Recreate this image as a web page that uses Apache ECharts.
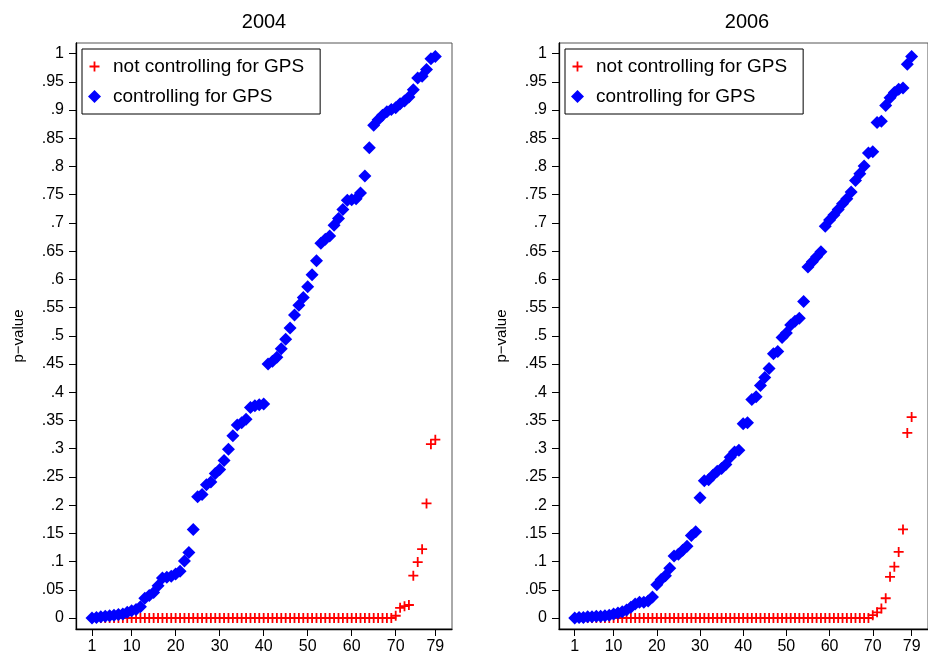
<!DOCTYPE html>
<html>
<head>
<meta charset="utf-8">
<script src="https://cdn.jsdelivr.net/npm/echarts@6/dist/echarts.min.js"></script>
<style>html,body{margin:0;padding:0;background:#fff;}#c{width:928px;height:658px;}</style>
</head>
<body>
<div id="c"></div>
<script>
// rank index (categories)
const ranks = [1,2,3,4,5,6,7,8,9,10,11,12,13,14,15,16,17,18,19,20,21,22,23,24,25,26,27,28,29,30,31,32,33,34,35,36,37,38,39,40,41,42,43,44,45,46,47,48,49,50,51,52,53,54,55,56,57,58,59,60,61,62,63,64,65,66,67,68,69,70,71,72,73,74,75,76,77,78,79];

const notCtrl2004 = [0,0,0,0,0,0,0,0,0,0,0,0,0,0,0,0,0,0,0,0,0,0,0,0,0,0,0,0,0,0,0,0,0,0,0,0,0,0,0,0,0,0,0,0,0,0,0,0,0,0,0,0,0,0,0,0,0,0,0,0,0,0,0,0,0,0,0,0,0,
  0.004,0.018,0.021,0.023,0.075,0.099,0.122,0.203,0.308,0.316];
const ctrl2004 = [0.000,0.001,0.002,0.003,0.004,0.005,0.006,0.007,0.010,0.013,
  0.015,0.020,0.035,0.040,0.045,0.057,0.071,0.072,0.074,0.078,
  0.083,0.101,0.116,0.157,0.215,0.219,0.236,0.241,0.256,0.263,
  0.279,0.299,0.323,0.342,0.346,0.352,0.373,0.376,0.378,0.379,
  0.450,0.455,0.462,0.477,0.494,0.514,0.537,0.554,0.568,0.587,
  0.608,0.633,0.664,0.671,0.677,0.696,0.708,0.724,0.740,0.741,
  0.743,0.753,0.783,0.833,0.873,0.883,0.891,0.897,0.901,0.904,
  0.911,0.916,0.923,0.936,0.957,0.960,0.972,0.991,0.995];

const notCtrl2006 = [0,0,0,0,0,0,0,0,0,0,0,0,0,0,0,0,0,0,0,0,0,0,0,0,0,0,0,0,0,0,0,0,0,0,0,0,0,0,0,0,0,0,0,0,0,0,0,0,0,0,0,0,0,0,0,0,0,0,0,0,0,0,0,0,0,0,0,0,0,
  0.005,0.010,0.017,0.035,0.073,0.091,0.117,0.157,0.328,0.356];
const ctrl2006 = [0.000,0.001,0.001,0.002,0.002,0.003,0.003,0.004,0.005,0.007,
  0.009,0.011,0.014,0.019,0.025,0.028,0.028,0.030,0.037,0.059,
  0.068,0.075,0.088,0.110,0.113,0.120,0.127,0.146,0.153,0.213,
  0.243,0.245,0.253,0.260,0.265,0.272,0.285,0.294,0.297,0.344,
  0.346,0.387,0.392,0.412,0.426,0.442,0.468,0.472,0.497,0.505,
  0.519,0.526,0.531,0.561,0.622,0.631,0.640,0.649,0.694,0.705,
  0.714,0.724,0.734,0.743,0.755,0.775,0.787,0.801,0.824,0.826,
  0.878,0.880,0.908,0.922,0.931,0.937,0.939,0.981,0.995];

const xTicks = [1,10,20,30,40,50,60,70,79];
const yTicks = [0,0.05,0.1,0.15,0.2,0.25,0.3,0.35,0.4,0.45,0.5,0.55,0.6,0.65,0.7,0.75,0.8,0.85,0.9,0.95,1];
const yTickLabels = ['0','.05','.1','.15','.2','.25','.3','.35','.4','.45','.5','.55','.6','.65','.7','.75','.8','.85','.9','.95','1'];
const panelTitles = ['2004','2006'];
const seriesNames = ['not controlling for GPS','controlling for GPS'];
const yName = 'p\u2212value';

const FONT = "'Liberation Sans', Arial, Helvetica, sans-serif";
const plusPath = 'path://M0,0M13,13M5.6,1.5H7.4V5.6H11.5V7.4H7.4V11.5H5.6V7.4H1.5V5.6H5.6Z';

function pairs(ys){ return ranks.map((r,i)=>[r, ys[i]]); }

const gridLefts = [76, 559];
const chart = echarts.init(document.getElementById('c'), null, {renderer:'canvas'});

const grids = gridLefts.map(l => ({left:l, top:43, width:376, height:586, show:true, borderColor:'#555', borderWidth:1, backgroundColor:'#fff'}));

const xAxes = [0,1].map(i => ({
  type:'value', gridIndex:i, min:-2.64, max:82.79,
  axisLine:{show:true, onZero:false, lineStyle:{color:'#000', width:1.3}},
  axisTick:{show:true, length:7, customValues:xTicks, lineStyle:{color:'#000', width:1}},
  axisLabel:{show:true, customValues:xTicks, margin:10, fontSize:16, color:'#000', fontFamily:FONT},
  splitLine:{show:false}
}));

const yAxes = [0,1].map(i => ({
  type:'value', gridIndex:i, min:-0.0195, max:1.0188,
  name: yName, nameLocation:'middle', nameGap:50,
  nameTextStyle:{fontSize:15, color:'#000', fontFamily:FONT},
  axisLine:{show:true, onZero:false, lineStyle:{color:'#000', width:1.3}},
  axisTick:{show:true, length:7, customValues:yTicks, lineStyle:{color:'#000', width:1}},
  axisLabel:{show:true, customValues:yTicks, margin:12, fontSize:16, color:'#000', fontFamily:FONT,
    formatter: v => { const k = yTicks.findIndex(t => Math.abs(t - v) < 1e-6); return k >= 0 ? yTickLabels[k] : ''; }},
  splitLine:{show:false}
}));

const dataSets = [[notCtrl2004, ctrl2004],[notCtrl2006, ctrl2006]];
const series = [];
[0,1].forEach(p => {
  series.push({name:seriesNames[0], type:'scatter', xAxisIndex:p, yAxisIndex:p, data:pairs(dataSets[p][0]),
    symbol:plusPath, symbolSize:13, itemStyle:{color:'#ff0000', opacity:1}, clip:false, z:2});
  series.push({name:seriesNames[1], type:'scatter', xAxisIndex:p, yAxisIndex:p, data:pairs(dataSets[p][1]),
    symbol:'diamond', symbolSize:13, itemStyle:{color:'#0000ff', opacity:1}, clip:false, z:3});
});

const legends = gridLefts.map(l => ({
  left: l + 6, top: 49, orient:'vertical',
  data:[{name:seriesNames[0], icon:plusPath},{name:seriesNames[1], icon:'diamond'}],
  itemWidth:13, itemHeight:13, itemGap:11,
  padding:[8, 16, 8, 6],
  borderColor:'#000', borderWidth:1, backgroundColor:'#fff',
  selectedMode:false,
  textStyle:{fontSize:19, lineHeight:19, color:'#000', fontFamily:FONT, padding:[0,0,0,7]}
}));

const titleGraphics = [0,1].map(p => ({
  type:'text', x: gridLefts[p] + 188, y: 22,
  style:{text: panelTitles[p], fontSize:20, fontFamily:FONT, fill:'#000', align:'center', verticalAlign:'middle'}
}));

chart.setOption({
  animation:false,
  backgroundColor:'#fff',
  textStyle:{fontFamily:FONT},
  grid: grids,
  xAxis: xAxes,
  yAxis: yAxes,
  legend: legends,
  graphic: titleGraphics,
  series: series
});
</script>
</body>
</html>
